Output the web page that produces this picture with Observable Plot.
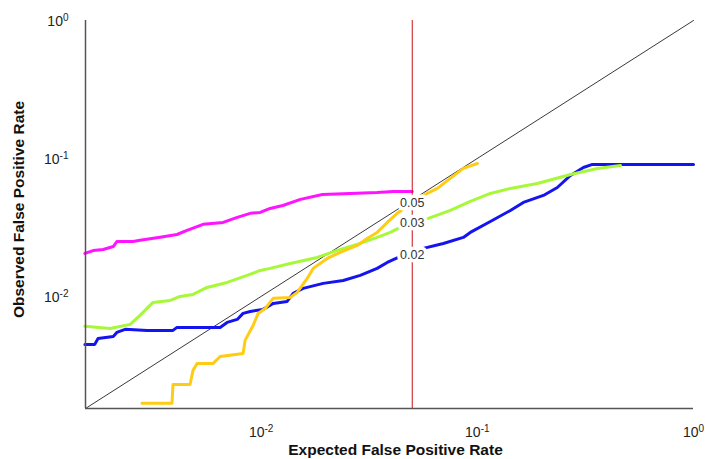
<!DOCTYPE html>
<html>
<head>
<meta charset="utf-8">
<script src="https://cdn.jsdelivr.net/npm/d3@7"></script>
<script src="https://cdn.jsdelivr.net/npm/@observablehq/plot@0.6"></script>
<style>
  html, body { margin: 0; padding: 0; background: #fff; }
  #chart svg { display: block; font-family: "Liberation Sans", Arial, sans-serif; }
</style>
</head>
<body>
<div id="chart"></div>
<script>
// ---- data ----
const domainMin = 0.00154;
const domainMax = 1;

const pinkX = [0.00153,0.00167,0.00186,0.00207,0.00215,0.00256,0.00275,0.00341,0.00408,0.00454,0.00539,0.00667,0.00775,0.0089,0.0099,0.011,0.0126,0.0152,0.0192,0.0258,0.0344,0.0409,0.05];
const pinkY = [0.0205,0.0215,0.0219,0.0230,0.0250,0.0250,0.0255,0.0268,0.0281,0.0301,0.0333,0.0344,0.0374,0.0400,0.0406,0.0434,0.0456,0.0505,0.0548,0.0558,0.0567,0.0577,0.0577];

const greenX = [0.00153,0.00200,0.00248,0.00275,0.00316,0.00379,0.00422,0.00484,0.00562,0.00696,0.00861,0.0099,0.0110,0.01362,0.01817,0.02249,0.02873,0.0344,0.03956,0.04309,0.05934,0.0750,0.0928,0.1149,0.1422,0.1896,0.2697,0.3594,0.4593];
const greenY = [0.00607,0.00586,0.00627,0.00728,0.00905,0.00935,0.0100,0.01034,0.01161,0.01263,0.01420,0.01543,0.01596,0.01734,0.01917,0.02154,0.02421,0.02677,0.02909,0.03111,0.03674,0.04199,0.0488,0.05575,0.06065,0.06590,0.07656,0.08467,0.08897];

const blueX = [0.00153,0.00170,0.00176,0.00207,0.00215,0.00235,0.00297,0.00391,0.00408,0.00646,0.00696,0.00775,0.00825,0.0089,0.01021,0.01137,0.01319,0.01407,0.01564,0.01937,0.02397,0.02873,0.0344,0.03831,0.04309,0.05623,0.06962,0.08616,0.0928,0.1149,0.1422,0.1633,0.2021,0.2345,0.2697,0.3095,0.3407,1.0];
const blueY = [0.00449,0.00449,0.00496,0.00513,0.00548,0.00577,0.00567,0.00567,0.00596,0.00596,0.00648,0.00681,0.00753,0.00778,0.00805,0.00890,0.00920,0.01051,0.01143,0.01243,0.01305,0.01420,0.01596,0.01763,0.01917,0.02228,0.02421,0.02677,0.02909,0.03494,0.04199,0.04800,0.05395,0.06160,0.07530,0.08603,0.09051,0.09051];

const yellowX = [0.00281,0.00387,0.00391,0.00469,0.00484,0.00506,0.00600,0.00646,0.00825,0.00843,0.00918,0.00969,0.01044,0.01137,0.01362,0.01468,0.01633,0.01741,0.02021,0.02321,0.02783,0.03096,0.0344,0.03831,0.04309,0.05623,0.06530,0.0750,0.08616,0.1];
const yellowY = [0.00168,0.00168,0.00230,0.00230,0.00291,0.00327,0.00327,0.00367,0.00386,0.00480,0.00616,0.00753,0.00818,0.00968,0.00984,0.01069,0.01350,0.01596,0.01885,0.02084,0.02342,0.02632,0.02909,0.03436,0.04062,0.05395,0.06065,0.07165,0.08467,0.09196];

const diagX = [0.00154, 1];
const diagY = [0.00154, 1];

const cutoffX = [0.05];

const noteLabels = ["0.05", "0.03", "0.02"];
const noteY = [0.0472, 0.0338, 0.0198];

const xTickValues = [0.01, 0.1, 1];
const xTickLabels = ["10^-2", "10^-1", "10^0"];
const yTickValues = [0.01, 0.1, 1];
const yTickLabels = ["10^-2", "10^-1", "10^0"];

const xTitle = "Expected False Positive Rate";
const yTitle = "Observed False Positive Rate";

// ---- build tables ----
const toRows = (xs, ys) => xs.map((x, i) => ({x, y: ys[i]}));
const pink = toRows(pinkX, pinkY);
const green = toRows(greenX, greenY);
const blue = toRows(blueX, blueY);
const yellow = toRows(yellowX, yellowY);
const diag = toRows(diagX, diagY);
const notes = noteLabels.map((t, i) => ({t, y: noteY[i]}));

const font = "'Liberation Sans', Arial, sans-serif";

const chart = Plot.plot({
  width: 705,
  height: 459,
  marginTop: 20,
  marginRight: 12,
  marginBottom: 51,
  marginLeft: 85,
  style: {fontFamily: font, background: "#fff", overflow: "visible"},
  x: {type: "log", domain: [domainMin, domainMax], axis: null},
  y: {type: "log", domain: [domainMin, domainMax], axis: null},
  marks: [
    Plot.line(diag, {x: "x", y: "y", stroke: "#222", strokeWidth: 0.9}),
    Plot.line(blue, {x: "x", y: "y", stroke: "#1414f0", strokeWidth: 3}),
    Plot.line(green, {x: "x", y: "y", stroke: "#a8f83a", strokeWidth: 3}),
    Plot.line(yellow, {x: "x", y: "y", stroke: "#ffcc14", strokeWidth: 3}),
    Plot.line(pink, {x: "x", y: "y", stroke: "#ff14ff", strokeWidth: 3}),
    Plot.ruleX(cutoffX, {stroke: "#cc1111", strokeWidth: 1}),
    Plot.text(notes, {x: () => cutoffX[0], y: "y", text: "t", fill: "#333", stroke: "white", strokeWidth: 7, strokeLinejoin: "round", fontSize: 12.5, fontFamily: font}),
    Plot.ruleX([domainMin], {stroke: "#555", strokeWidth: 1.5}),
    Plot.ruleY([domainMin], {stroke: "#555", strokeWidth: 1.5}),
    Plot.text(xTickValues, {x: d => d, frameAnchor: "bottom", lineAnchor: "middle", textAnchor: "middle", dy: 24, text: (d, i) => xTickLabels[i], fill: "#222", fontSize: 14, fontFamily: font}),
    Plot.text(yTickValues, {y: d => d, frameAnchor: "left", dx: -17, dy: 1, textAnchor: "end", text: (d, i) => yTickLabels[i], fill: "#222", fontSize: 14, fontFamily: font}),
    Plot.text([xTitle], {frameAnchor: "bottom", lineAnchor: "middle", textAnchor: "middle", dx: 6, dy: 42, text: d => d, fill: "#111", fontSize: 15.5, fontWeight: "bold", fontFamily: font}),
    Plot.text([yTitle], {frameAnchor: "left", lineAnchor: "middle", textAnchor: "middle", rotate: -90, dx: -66, dy: -5, text: d => d, fill: "#111", fontSize: 15.5, fontWeight: "bold", fontFamily: font})
  ]
});

document.getElementById("chart").appendChild(chart);

// superscript exponents on tick labels
d3.select(chart).selectAll("text").each(function () {
  const t = this.textContent;
  const parts = t.split("^");
  if (parts.length === 2) {
    this.textContent = parts[0];
    d3.select(this).append("tspan").attr("dy", "-0.5em").attr("font-size", "10px").text(parts[1]);
  }
});
</script>
</body>
</html>
